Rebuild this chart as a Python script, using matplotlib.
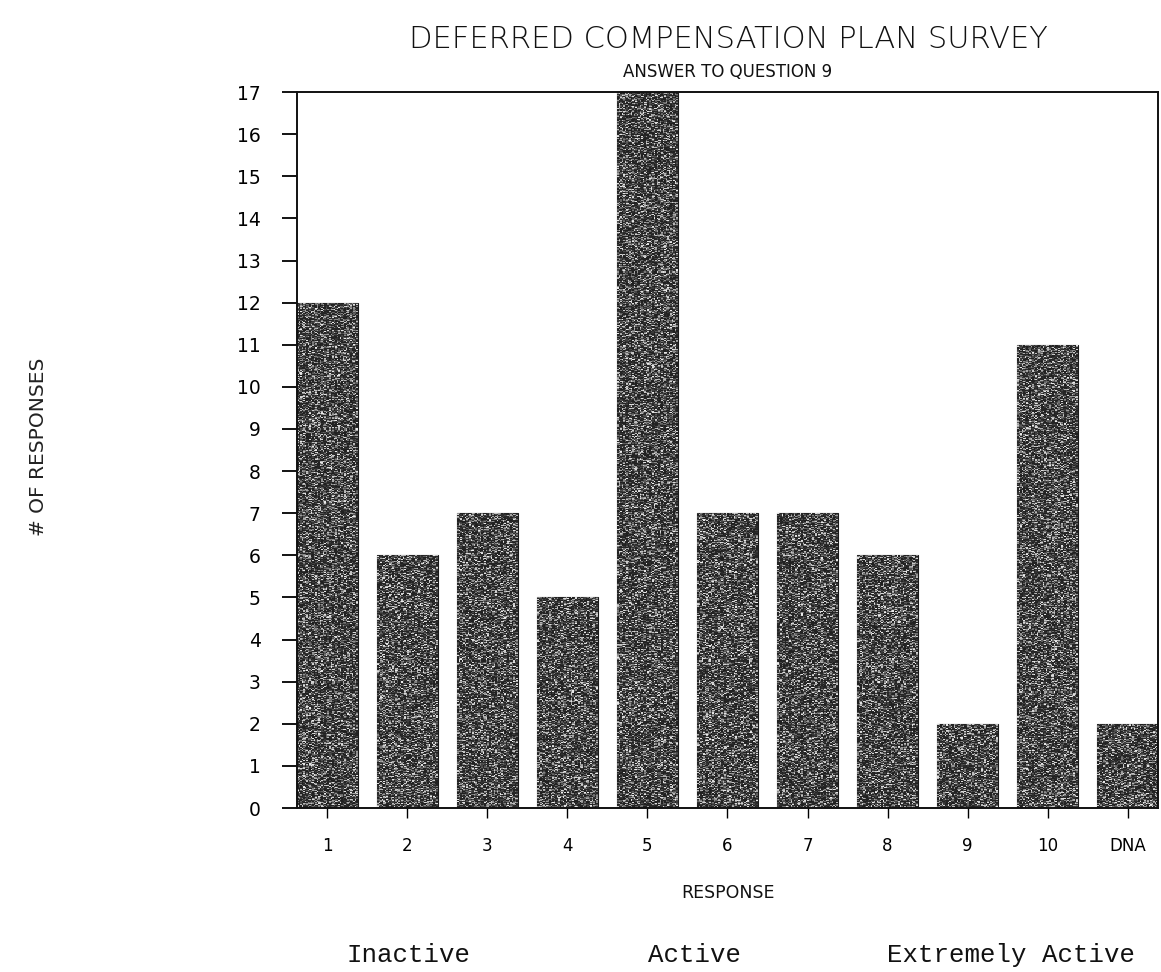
import matplotlib
matplotlib.use("Agg")
import matplotlib.pyplot as plt
import numpy as np

# survey answers to question 9
categories = ["1", "2", "3", "4", "5", "6", "7", "8", "9", "10", "DNA"]
responses = [12, 6, 7, 5, 17, 7, 7, 6, 2, 11, 2]
y_ticks = list(range(0, 18))

scale_labels = ["Inactive", "Active", "Extremely Active"]


def speckle(ax, bar, rng):
    # grainy toner texture, clipped to the bar outline
    x0, y0 = bar.get_x(), bar.get_y()
    w, h = bar.get_width(), bar.get_height()
    rows = max(int(h * 42), 2)
    r = rng.random((rows, 40))
    tex = 0.13 + 0.8 * r ** 3
    im = ax.imshow(tex, cmap="gray", vmin=0, vmax=1, interpolation="nearest",
                   extent=[x0, x0 + w, y0, y0 + h], aspect="auto", zorder=3)
    im.set_clip_path(bar)


fig = plt.figure(figsize=(11.61, 9.72), dpi=100)
ax = fig.add_axes([0.2558, 0.1687, 0.7416, 0.7366])

x = np.arange(1, len(categories) + 1)
bars = ax.bar(x, responses, width=0.76, color="#333333", edgecolor="#1a1a1a",
              linewidth=0.8, zorder=2)
rng = np.random.default_rng(9)
for b in bars:
    speckle(ax, b, rng)

ax.set_xlim(0.62, len(categories) + 0.38)
ax.set_ylim(0, 17)
ax.set_xticks(x)
ax.set_xticklabels(categories, fontsize=12)
ax.set_yticks(y_ticks)
ax.set_yticklabels([str(v) for v in y_ticks], fontsize=13.5)

for s in ax.spines.values():
    s.set_linewidth(1.4)
    s.set_color("#111111")
    s.set_zorder(5)
ax.tick_params(axis="y", direction="out", length=11, width=1.3, pad=15)
ax.tick_params(axis="x", direction="out", length=7, width=1.0, pad=14)

fig.text(0.627, 0.959, "DEFERRED COMPENSATION PLAN SURVEY", ha="center",
         va="center", fontsize=22, fontweight="light", color="#111111")
fig.text(0.627, 0.926, "ANSWER TO QUESTION 9", ha="center", va="center",
         fontsize=12, color="#111111")
fig.text(0.033, 0.54, "# OF RESPONSES", rotation=90, ha="center",
         va="center", fontsize=14.5, color="#222222")
fig.text(0.627, 0.081, "RESPONSE", ha="center", va="center", fontsize=12.5,
         color="#111111")

for lbl, xpos in zip(scale_labels, [0.352, 0.598, 0.871]):
    fig.text(xpos, 0.017, lbl, ha="center", va="center", fontsize=18.5,
             family="Liberation Mono", color="#111111")

fig.savefig("out.png", dpi=100)
